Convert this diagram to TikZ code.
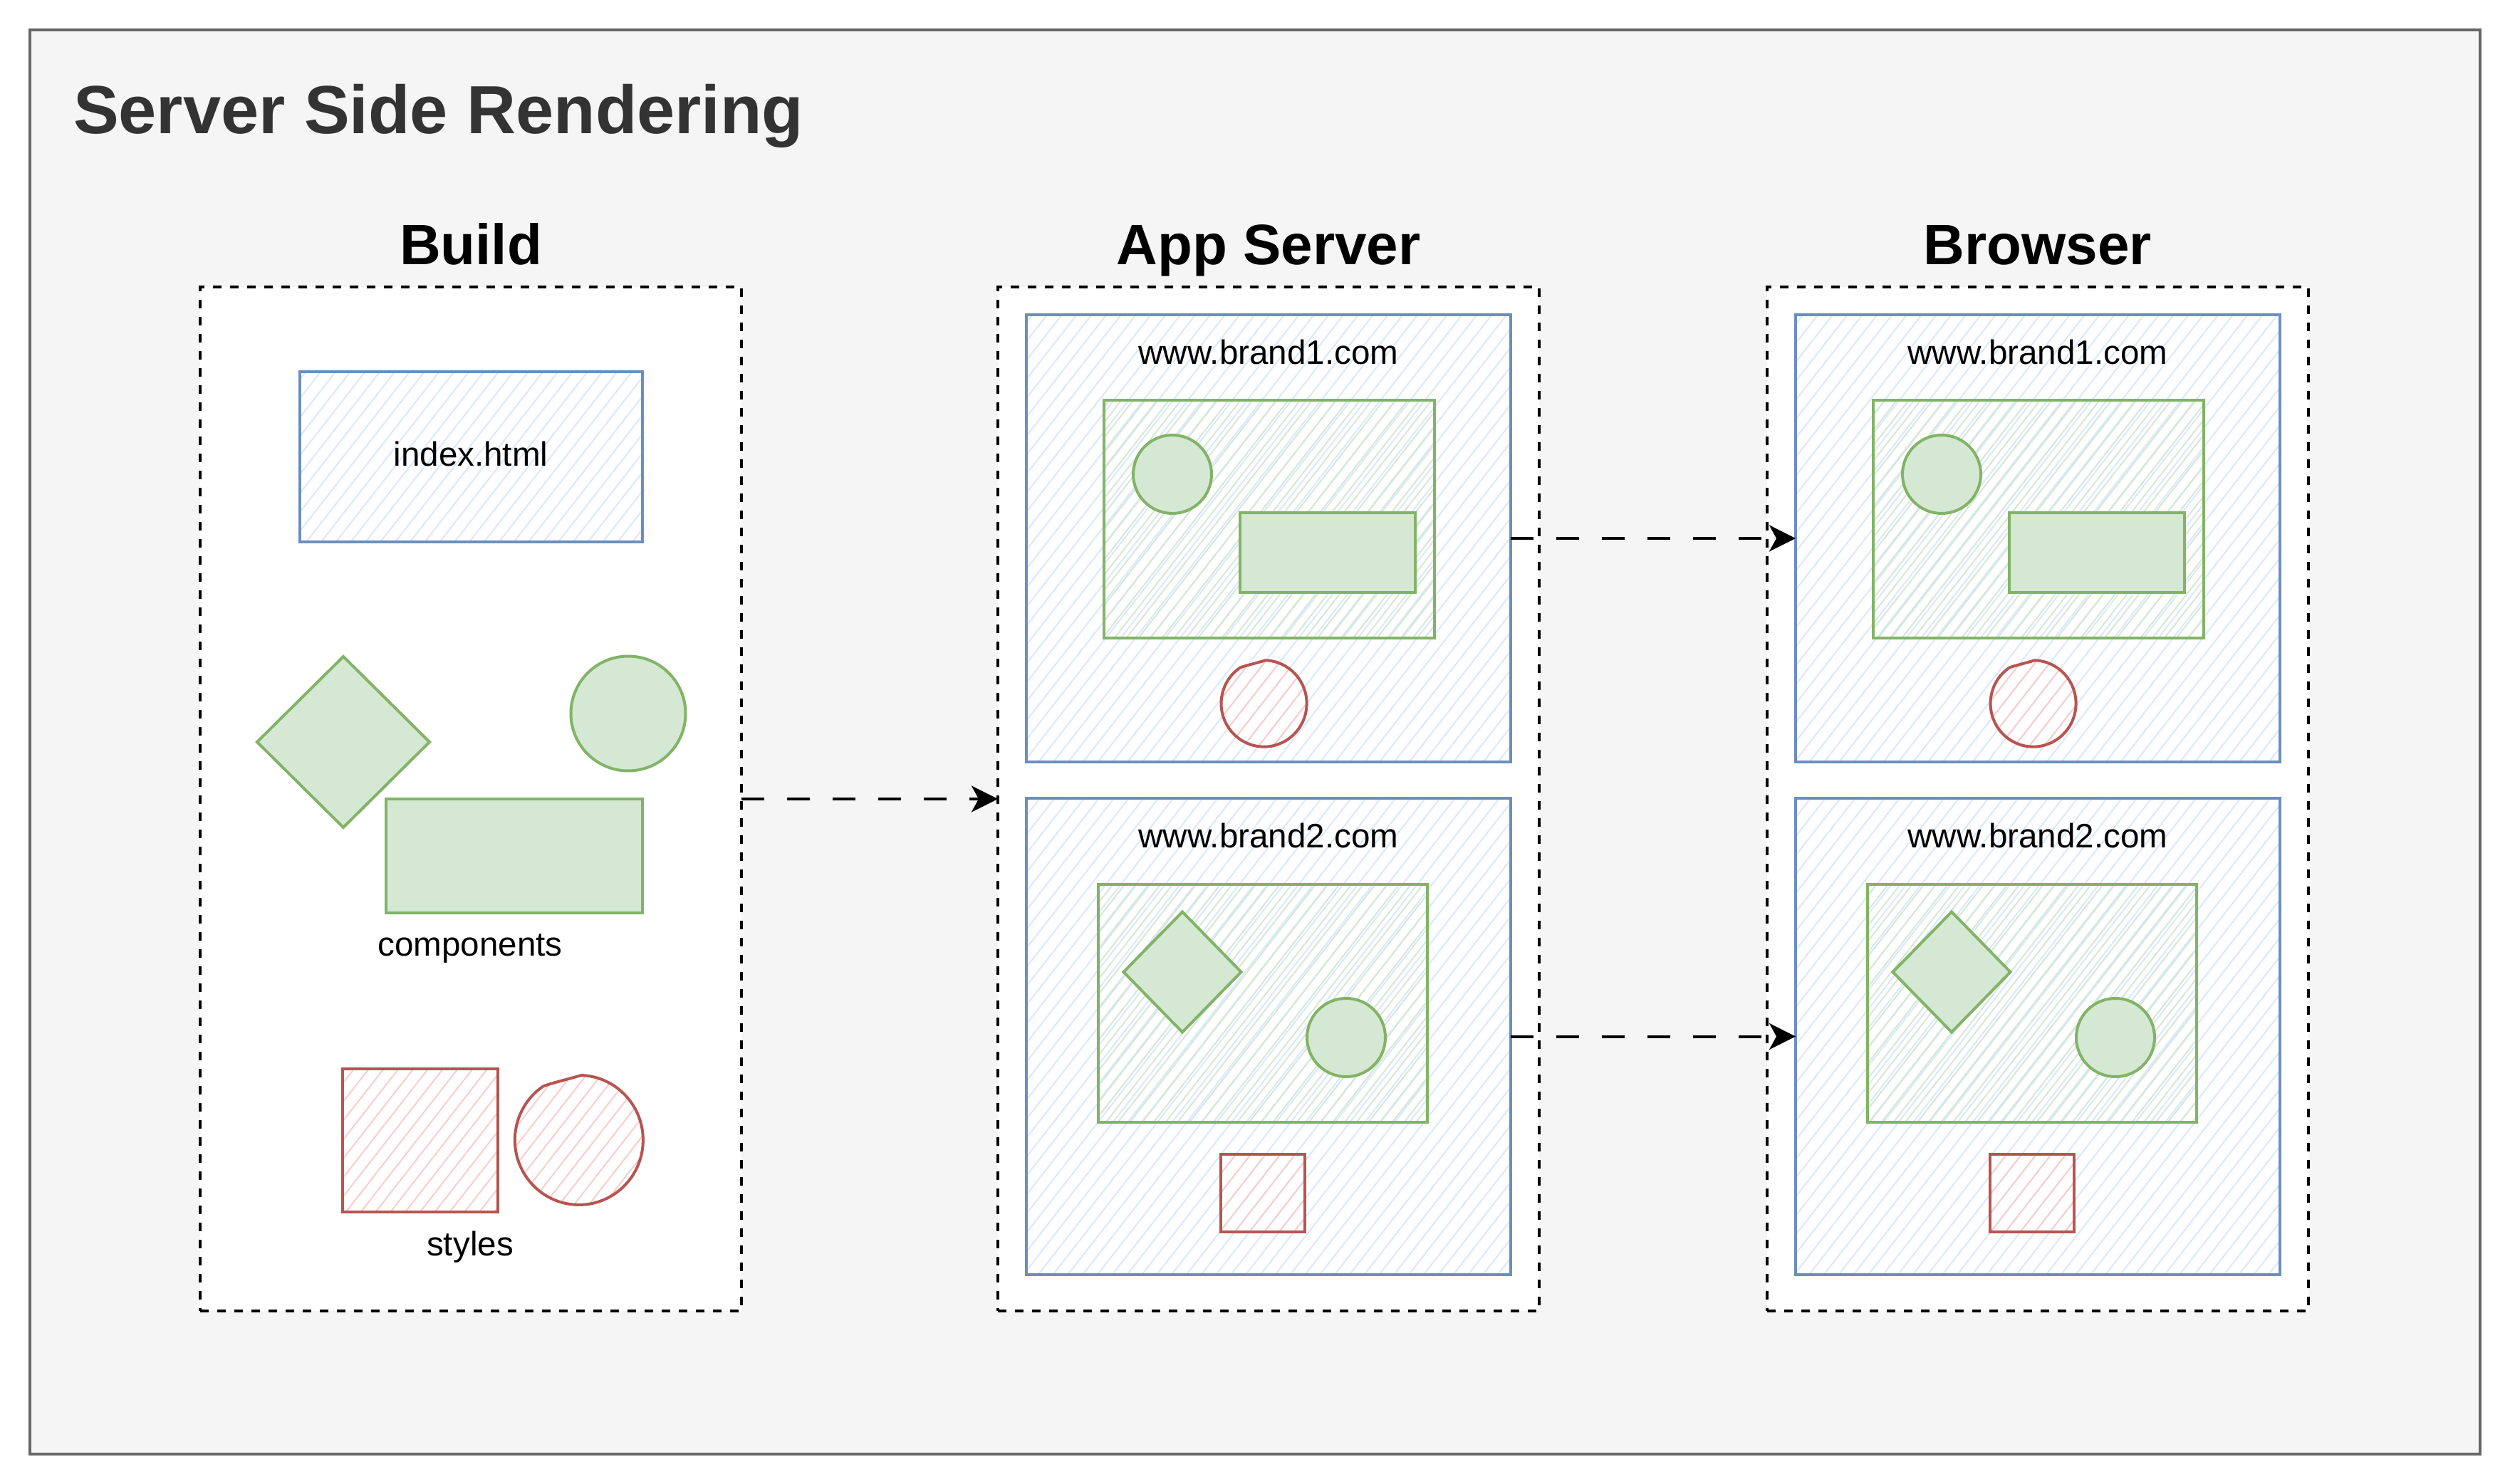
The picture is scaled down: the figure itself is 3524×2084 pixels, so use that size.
\documentclass[tikz,border=0pt]{standalone}
\usepackage{fontspec}
\setmainfont{Liberation Sans}
\usetikzlibrary{shapes.geometric,fit,arrows.meta,patterns.meta}
\definecolor{bluestroke}{HTML}{6C8EBF}
\definecolor{bluehatch}{HTML}{DAE8FC}
\definecolor{greenstroke}{HTML}{82B366}
\definecolor{greenfill}{HTML}{D5E8D4}
\definecolor{redstroke}{HTML}{B85450}
\definecolor{redhatch}{HTML}{F8CECC}
\definecolor{framefill}{HTML}{F5F5F5}
\definecolor{framestroke}{HTML}{666666}
\definecolor{titlecol}{HTML}{333333}
\newcommand\pxu{0.25pt}
\newcommand\sketchcircle[2]{%
  \begin{scope}[shift={#1},scale=#2]
    \draw[redbox] (4,-91) arc[start angle=-88, end angle=236, x radius=90, y radius=91]
      .. controls (-38,-80) and (-12,-86) .. (4,-91) -- cycle;
  \end{scope}}
\begin{document}
\begin{tikzpicture}[x=0.25pt,y=-0.25pt,
  every node/.style={inner sep=0pt, outer sep=0pt},
  frame/.style={draw=framestroke, fill=framefill, line width=1pt},
  column/.style={draw=black, fill=white, line width=1pt, dash pattern=on 3pt off 3pt},
  bluebox/.style={draw=bluestroke, line width=1pt, pattern={Lines[angle=52,distance=4.1pt,line width=0.5pt]}, pattern color=bluehatch},
  greenhatch/.style={draw=greenstroke, line width=1pt, pattern={Lines[angle=52,distance=3.3pt,line width=0.5pt]}, pattern color=greenfill},
  greensolid/.style={draw=greenstroke, fill=greenfill, line width=1pt},
  redbox/.style={draw=redstroke, line width=1pt, pattern={Lines[angle=52,distance=4.1pt,line width=0.5pt]}, pattern color=redhatch},
  conn/.style={draw=black, line width=1pt, dash pattern=on 8pt off 8pt, -{Stealth[length=9.25pt,width=9.25pt,inset=2.5pt]}},
  body/.style={font=\fontsize{11.9}{14}\selectfont, text=black},
  header/.style={font=\fontsize{20}{24}\selectfont\bfseries, text=black},
  titletext/.style={font=\fontsize{23.9}{28}\selectfont\bfseries, text=titlecol}
]
\useasboundingbox (0,0) rectangle (3524,2084);
% outer frame
\node[frame, fit={(42,42)(3482,2042)}] (frame) {};
\node[titletext, anchor=base west] (title) at (103,188) {Server Side Rendering};

% headers
\node[header, anchor=base] (hbuild) at (661,372) {Build};
\node[header, anchor=base] (happ) at (1781,372) {App Server};
\node[header, anchor=base] (hbrowser) at (2861,372) {Browser};

% columns
\node[column, fit={(281,403)(1041,1841)}] (build) {};
\node[column, fit={(1401,403)(2161,1841)}] (app) {};
\node[column, fit={(2481,403)(3241,1841)}] (browser) {};

% ---- Build column ----
\node[bluebox, fit={(421,522)(902,761)}] (index) {};
\node[body, anchor=base] (indextext) at (661,655) {index.html};
\node[greensolid, diamond, minimum width=242*\pxu, minimum height=240*\pxu] (bdiamond) at (482,1042) {};
\node[greensolid, circle, minimum size=161*\pxu] (bcircle) at (882,1002) {};
\node[greensolid, fit={(542,1122)(902,1282)}] (brect) {};
\node[body, anchor=base] (comptext) at (660,1343) {components};
\node[redbox, fit={(481,1501)(699,1702)}] (bredsq) {};
\sketchcircle{(812,1601)}{1}
\coordinate (bredcirc) at (812,1601);
\node[body, anchor=base] (styletext) at (660,1763) {styles};

% ---- App Server and Browser columns ----
\foreach \dx/\p in {0/a,1080/b} {
  \begin{scope}[xshift=\dx*\pxu]
    % brand1
    \node[bluebox, fit={(1441,442)(2121,1070)}] (\p b1) {};
    \node[body, anchor=base] (\p t1) at (1781,512) {www.brand1.com};
    \node[greenhatch, fit={(1550,562)(2014,896)}] (\p g1) {};
    \node[greensolid, circle, minimum size=110*\pxu] (\p c1) at (1646,666) {};
    \node[greensolid, fit={(1741,720)(1987,832)}] (\p r1) {};
    \sketchcircle{(1774,988)}{0.667}
    % brand2
    \node[bluebox, fit={(1441,1121)(2121,1790)}] (\p b2) {};
    \node[body, anchor=base] (\p t2) at (1781,1191) {www.brand2.com};
    \node[greenhatch, fit={(1542,1242)(2004,1576)}] (\p g2) {};
    \node[greensolid, diamond, minimum width=165*\pxu, minimum height=169*\pxu] (\p d2) at (1660,1365) {};
    \node[greensolid, circle, minimum size=110*\pxu] (\p c2) at (1890,1457) {};
    \node[redbox, fit={(1714,1621)(1832,1730)}] (\p s2) {};
  \end{scope}
}

% connectors
\draw[conn] (build.east) -- (app.west);
\draw[conn] (ab1.east) -- (bb1.west);
\draw[conn] (ab2.east) -- (bb2.west);
\end{tikzpicture}
\end{document}
